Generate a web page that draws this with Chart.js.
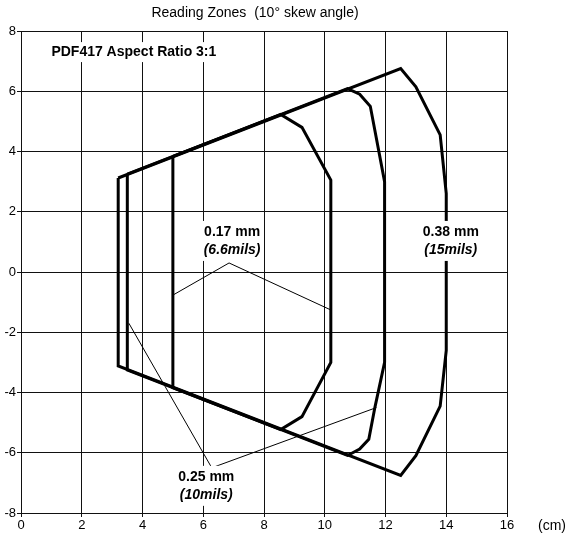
<!DOCTYPE html>
<html>
<head>
<meta charset="utf-8">
<script src="https://cdn.jsdelivr.net/npm/chart.js@4"></script>
<style>
  html, body { margin: 0; padding: 0; background: #fff; }
  #wrap { width: 570px; height: 537px; }
</style>
</head>
<body>
<div id="wrap"><canvas id="zoneChart" width="570" height="537"></canvas></div>
<script>
// Reading zone outlines, points in cm (x) / cm (y)
const zone017 = [[5.0, 3.84], [8.55, 5.23], [9.25, 4.8], [10.2, 3.05], [10.2, -3.0], [9.25, -4.8], [8.55, -5.23], [5.0, -3.84], [5.0, 3.84]];
const zone025 = [[3.5, 3.25], [10.75, 6.09], [11.15, 5.9], [11.5, 5.5], [11.97, 3.0], [11.97, -3.0], [11.65, -4.5], [11.45, -5.55], [11.15, -5.88], [10.75, -6.09], [3.5, -3.25], [3.5, 3.25]];
const zone038 = [[3.2, 3.12], [12.5, 6.75], [13.0, 6.15], [13.8, 4.55], [14.0, 2.6], [14.0, -2.6], [13.8, -4.45], [13.0, -6.1], [12.5, -6.75], [3.2, -3.12], [3.2, 3.12]];

// thin leader lines from labels to zones
const leader017 = [[5.03, -0.75], [6.85, 0.3], [10.18, -1.25]];
const leader025 = [[3.55, -1.7], [6.28, -6.5], [11.7, -4.5]];

const xTicks = [0, 2, 4, 6, 8, 10, 12, 14, 16];
const yTicks = [-8, -6, -4, -2, 0, 2, 4, 6, 8];

// text labels: [x, y, line1, line2]
const zoneLabels = [
  [6.95, 1.33, "0.17 mm", "(6.6mils)"],
  [6.1, -6.8, "0.25 mm", "(10mils)"],
  [14.15, 1.33, "0.38 mm", "(15mils)"]
];

const toXY = (pts) => pts.map((p) => ({ x: p[0], y: p[1] }));

function outline(pts, width) {
  return {
    data: toXY(pts),
    showLine: true,
    fill: false,
    borderColor: "#000",
    borderWidth: width,
    pointRadius: 0,
    borderJoinStyle: "miter",
    tension: 0,
  };
}

const labelPlugin = {
  id: "labels",
  afterDatasetsDraw(chart) {
    const c = chart.ctx;
    const xs = chart.scales.x;
    const ys = chart.scales.y;
    c.save();
    c.textAlign = "center";
    c.textBaseline = "middle";
    zoneLabels.forEach((l) => {
      const px = xs.getPixelForValue(l[0]);
      const py = ys.getPixelForValue(l[1]);
      c.font = "bold 14px 'Liberation Sans', Arial, sans-serif";
      const w1 = c.measureText(l[2]).width;
      c.font = "italic bold 14px 'Liberation Sans', Arial, sans-serif";
      const w2 = c.measureText(l[3]).width;
      const w = Math.max(w1, w2) + 6;
      c.fillStyle = "#fff";
      c.fillRect(px - w / 2, py - 11, w, 40);
      c.fillStyle = "#000";
      c.font = "bold 14px 'Liberation Sans', Arial, sans-serif";
      c.fillText(l[2], px, py);
      c.font = "italic bold 14px 'Liberation Sans', Arial, sans-serif";
      c.fillText(l[3], px, py + 18);
    });

    // chart caption inside plot
    c.textAlign = "left";
    c.font = "bold 14px 'Liberation Sans', Arial, sans-serif";
    const cap = "PDF417 Aspect Ratio 3:1";
    const cx = xs.getPixelForValue(1.0);
    const cy = ys.getPixelForValue(7.3);
    c.fillStyle = "#fff";
    c.fillRect(cx - 3, cy - 10, c.measureText(cap).width + 6, 20);
    c.fillStyle = "#000";
    c.fillText(cap, cx, cy);

    // title and unit
    c.font = "14px 'Liberation Sans', Arial, sans-serif";
    c.textAlign = "center";
    c.fillText("Reading Zones  (10\u00b0 skew angle)", 255, 13);
    c.fillText("(cm)", 552, xs.bottom - 11);
    c.restore();
  },
};

new Chart(document.getElementById("zoneChart"), {
  type: "scatter",
  data: {
    datasets: [
      outline(zone017, 3),
      outline(zone025, 3),
      outline(zone038, 3),
      outline(leader017, 1),
      outline(leader025, 1),
    ],
  },
  options: {
    responsive: false,
    animation: false,
    layout: { padding: { left: 0, right: 63, top: 31, bottom: 0 } },
    plugins: { legend: { display: false }, tooltip: { enabled: false }, title: { display: false } },
    scales: {
      x: {
        type: "linear",
        min: 0,
        max: 16,
        afterBuildTicks: (s) => { s.ticks = xTicks.map((v) => ({ value: v })); },
        afterFit: (s) => { s.height = 24; },
        grid: { color: "#111", lineWidth: 1, tickLength: 4 },
        border: { color: "#111" },
        ticks: { color: "#000", padding: 1, font: { family: "'Liberation Sans', Arial, sans-serif", size: 13 } },
      },
      y: {
        type: "linear",
        min: -8,
        max: 8,
        afterBuildTicks: (s) => { s.ticks = yTicks.map((v) => ({ value: v })); },
        afterFit: (s) => { s.width = 21; },
        grid: { color: "#111", lineWidth: 1, tickLength: 4 },
        border: { color: "#111" },
        ticks: { color: "#000", padding: 1, font: { family: "'Liberation Sans', Arial, sans-serif", size: 13 } },
      },
    },
  },
  plugins: [labelPlugin],
});
</script>
</body>
</html>
